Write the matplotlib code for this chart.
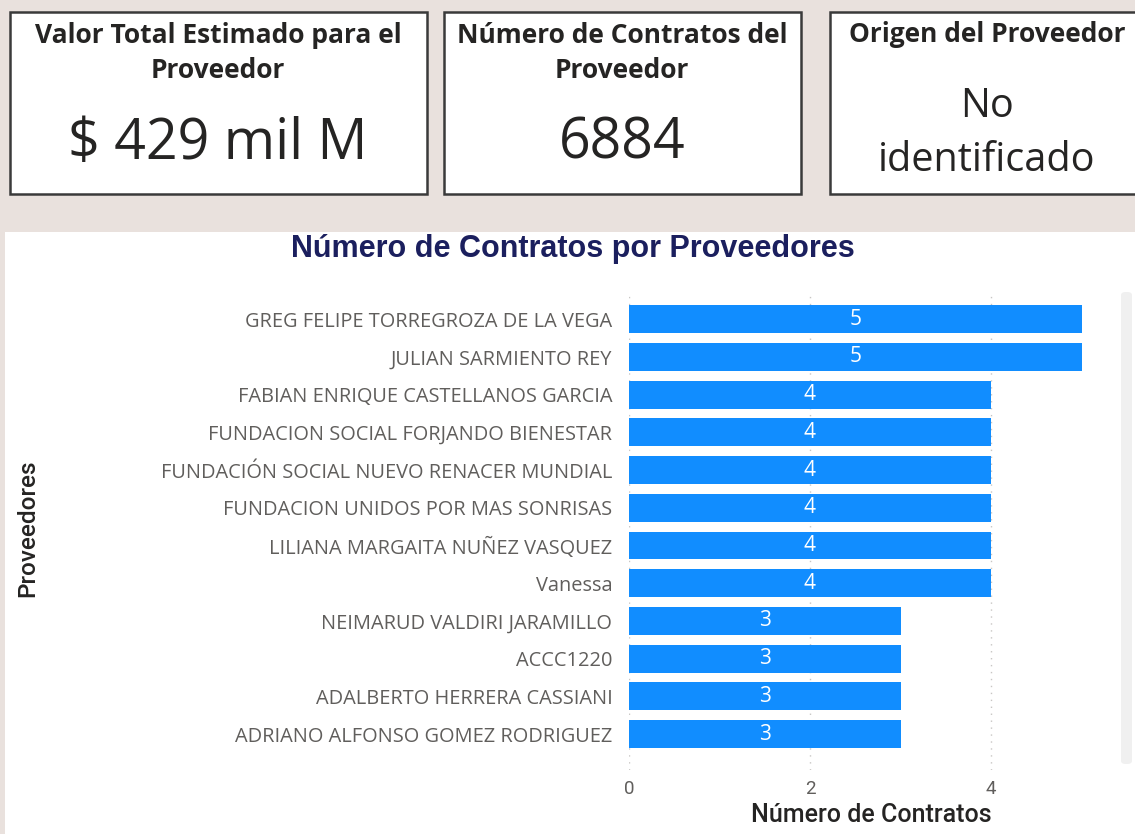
import matplotlib.pyplot as plt
from matplotlib.patches import Rectangle, FancyBboxPatch

# card values
card_titles = ["Valor Total Estimado para el\nProveedor", "Número de Contratos del\nProveedor", "Origen del Proveedor"]
card_values = ["$ 429 mil M", "6884", "No\nidentificado"]

# bar chart data
proveedores = [
    "GREG FELIPE TORREGROZA DE LA VEGA",
    "JULIAN SARMIENTO REY",
    "FABIAN ENRIQUE CASTELLANOS GARCIA",
    "FUNDACION SOCIAL FORJANDO BIENESTAR",
    "FUNDACIÓN SOCIAL NUEVO RENACER MUNDIAL",
    "FUNDACION UNIDOS POR MAS SONRISAS",
    "LILIANA MARGAITA NUÑEZ VASQUEZ",
    "Vanessa",
    "NEIMARUD VALDIRI JARAMILLO",
    "ACCC1220",
    "ADALBERTO HERRERA CASSIANI",
    "ADRIANO ALFONSO GOMEZ RODRIGUEZ",
]
contratos = [5, 5, 4, 4, 4, 4, 4, 4, 3, 3, 3, 3]

W, H = 1135, 834
fig = plt.figure(figsize=(W / 100, H / 100), dpi=100)
fig.patch.set_facecolor("#e9e1dd")

def fx(px):
    return px / W

def fy(py):
    return 1 - py / H

# white panel behind the chart
fig.patches.append(Rectangle((fx(5), 0), fx(1135 - 5), fy(232), transform=fig.transFigure,
                             facecolor="white", edgecolor="none", zorder=0))

# cards
cards = [(10, 427), (444, 801), (830, 1150)]
centers = [218, 622, 987]
for (x0, x1), cxp, title, val in zip(cards, centers, card_titles, card_values):
    fig.patches.append(Rectangle((fx(x0), fy(194)), fx(x1 - x0), fy(12) - fy(194),
                                 transform=fig.transFigure, facecolor="white",
                                 edgecolor="#3a3a3a", linewidth=1.8, zorder=1))
    cx = fx(cxp)
    if "\n" in title:
        fig.text(cx, fy(53), title, ha="center", va="center", fontsize=19,
                 fontweight="bold", family="Open Sans", color="#252423", linespacing=1.42)
    else:
        fig.text(cx, fy(34), title, ha="center", va="center", fontsize=19,
                 fontweight="bold", family="Open Sans", color="#252423")
    if "\n" in val:
        fig.text(cx, fy(134), val, ha="center", va="center", fontsize=28.5,
                 family="Open Sans", color="#252423", linespacing=1.45)
    else:
        fig.text(cx, fy(144), val, ha="center", va="center", fontsize=40,
                 family="Open Sans", color="#252423")

# chart
ax_top, ax_bot = 292, 770
ax = fig.add_axes([fx(629), fy(ax_bot), fx(1081.5 - 629), fy(ax_top) - fy(ax_bot)])
ax.set_zorder(3)
ax.set_facecolor("none")
ypos = list(range(len(proveedores)))
ax.barh(ypos, contratos, height=0.74, color="#118dff", zorder=2)
for y, v in zip(ypos, contratos):
    ax.text(v / 2, y, str(v), ha="center", va="center", color="white",
            fontsize=15, family="Open Sans", zorder=3)
ax.set_xlim(0, 5)
ax.set_ylim(11.95, -0.72)
ax.set_yticks(ypos)
ax.set_yticklabels(proveedores, fontsize=14.4, family="Open Sans", color="#605e5c")
ax.set_xticks([0, 2, 4])
ax.set_xticklabels(["0", "2", "4"], fontsize=13.5, family="Roboto", color="#605e5c")
ax.tick_params(axis="y", length=0, pad=12)
ax.tick_params(axis="x", length=0, pad=7)
ax.grid(axis="x", color="#c8c6c4", linestyle=(0, (1, 4)), linewidth=1, zorder=0)
for s in ax.spines.values():
    s.set_visible(False)

fig.text(fx(871), fy(815), "Número de Contratos", ha="center", va="center",
         fontsize=18, fontweight="medium", family="Roboto", color="#252423")
fig.text(fx(28), fy(528), "Proveedores", ha="center", va="center", rotation=90,
         fontsize=17.5, fontweight="medium", family="Roboto", color="#252423")
fig.text(fx(573), fy(249), "Número de Contratos por Proveedores", ha="center", va="center",
         fontsize=22, fontweight="bold", family="Liberation Sans", color="#1b1f5e")

# scrollbar
fig.patches.append(FancyBboxPatch((fx(1121), fy(764)), fx(11), fy(292) - fy(764),
                                  boxstyle="round,pad=0,rounding_size=0.004",
                                  transform=fig.transFigure, facecolor="#f0f0f0",
                                  edgecolor="none", zorder=1))

fig.savefig("out.png", dpi=100, facecolor=fig.get_facecolor())
